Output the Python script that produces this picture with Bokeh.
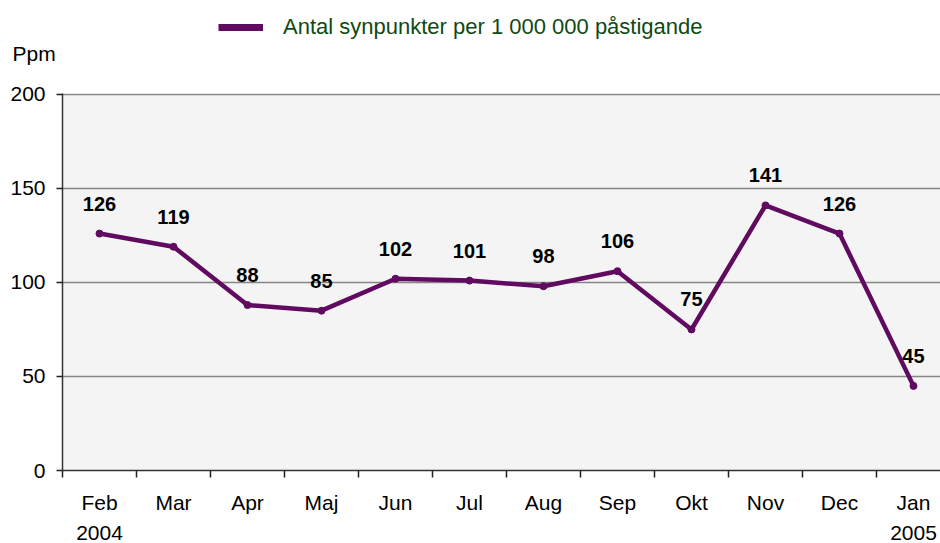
from bokeh.plotting import figure
from bokeh.layouts import column
from bokeh.models import (Range1d, FixedTicker, Legend, LegendItem,
                          ColumnDataSource, Label, LinearAxis)
from bokeh.core.properties import value
from bokeh.embed import file_html
from bokeh.resources import INLINE

months = ["Feb", "Mar", "Apr", "Maj", "Jun", "Jul", "Aug", "Sep", "Okt",
          "Nov", "Dec", "Jan"]
years = {0: "2004", 11: "2005"}
values = [126, 119, 88, 85, 102, 101, 98, 106, 75, 141, 126, 45]
y_ticks = [0, 50, 100, 150, 200]
series_name = "Antal synpunkter per 1 000 000 påstigande"
unit_label = "Ppm"

PURPLE = "#600a60"
FONT = "Liberation Sans"
HEAD_H = 78

# ---------- header (legend + unit) ----------
head = figure(width=940, height=HEAD_H, output_backend="svg", toolbar_location=None,
              x_range=Range1d(0, 940), y_range=Range1d(0, HEAD_H),
              x_axis_location=None, y_axis_location=None,
              min_border=0, frame_align=False)
head.grid.grid_line_color = None
head.outline_line_color = None
head.background_fill_color = "white"
leg_r = head.line(x=[float("nan")], y=[float("nan")], line_color=PURPLE, line_width=7)
legend = Legend(items=[LegendItem(label=series_name, renderers=[leg_r])],
                location=(218, HEAD_H - 27 - 15), glyph_width=45, glyph_height=30,
                label_standoff=20, padding=0, margin=0, border_line_color=None,
                background_fill_alpha=0, label_text_font=FONT,
                label_text_font_size="22px", label_text_color="#0f4a12")
head.add_layout(legend)
head.add_layout(Label(x=12, y=HEAD_H - 53, text=unit_label, text_font=FONT,
                      text_font_size="21px", text_baseline="alphabetic",
                      text_color="black"))

# ---------- main chart ----------
xs = [i + 0.5 for i in range(len(months))]
src = ColumnDataSource(dict(x=xs, y=values, lbl=[str(v) for v in values]))

p = figure(width=940, height=543 - HEAD_H, output_backend="svg", toolbar_location=None,
           x_range=Range1d(0, 11.865), y_range=Range1d(0, 200.5),
           min_border_left=62, min_border_right=0, min_border_top=93 - HEAD_H,
           min_border_bottom=73, frame_align=False)
p.background_fill_color = "#f4f4f4"
p.border_fill_color = "white"
p.outline_line_color = None

p.line("x", "y", source=src, line_color=PURPLE, line_width=4.5)
p.scatter("x", "y", source=src, size=7, color=PURPLE)

p.text("x", "y", text="lbl", source=src, text_align="center",
       text_baseline="alphabetic", y_offset=-30, text_font=value(FONT),
       text_font_style="bold", text_font_size="20px", text_color="black")

p.xaxis.ticker = FixedTicker(ticks=xs, minor_ticks=list(range(0, 12)))
p.xaxis.major_label_overrides = {x: m for x, m in zip(xs, months)}
p.xaxis.major_tick_line_color = None
p.xaxis.minor_tick_out = 7
p.xaxis.minor_tick_in = 0
p.xaxis.minor_tick_line_color = "#222222"
p.xaxis.minor_tick_line_width = 1.5
p.xaxis.major_label_standoff = 13
p.xaxis.axis_line_color = "#333333"
p.xaxis.axis_line_width = 1.5

yr_axis = LinearAxis(ticker=FixedTicker(ticks=[xs[i] for i in years]),
                     major_label_overrides={xs[i]: t for i, t in years.items()},
                     axis_line_color=None, major_tick_line_color=None,
                     minor_tick_line_color=None, major_label_standoff=9,
                     major_tick_out=0, major_tick_in=0,
                     major_label_text_font=FONT,
                     major_label_text_font_size="21px",
                     major_label_text_color="black")
p.add_layout(yr_axis, "below")

p.yaxis.ticker = FixedTicker(ticks=y_ticks)
p.yaxis.minor_tick_line_color = None
p.yaxis.major_tick_out = 6
p.yaxis.major_tick_in = 0
p.yaxis.major_tick_line_color = "#222222"
p.yaxis.major_tick_line_width = 1.5
p.yaxis.major_label_standoff = 11
p.yaxis.axis_line_color = "#333333"
p.yaxis.axis_line_width = 1.5

for ax in (p.xaxis[0], p.yaxis[0]):
    ax.major_label_text_font = FONT
    ax.major_label_text_font_size = "21px"
    ax.major_label_text_color = "black"

p.xgrid.grid_line_color = None
p.ygrid.ticker = FixedTicker(ticks=y_ticks[1:])
p.ygrid.grid_line_color = "#858585"
p.ygrid.grid_line_width = 1.5

layout = column(head, p, spacing=0)
open("out.html", "w").write(file_html(layout, INLINE))
